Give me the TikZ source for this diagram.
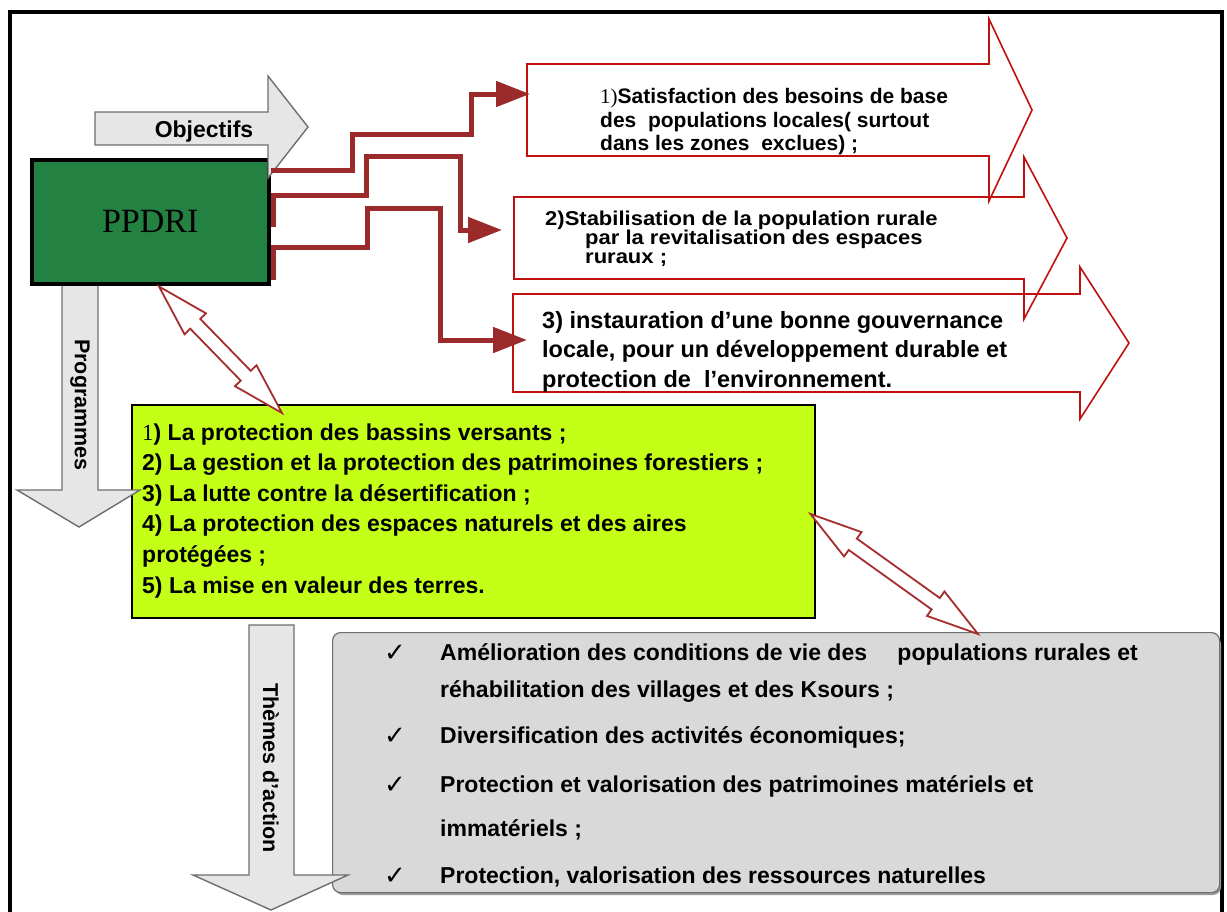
\documentclass[tikz,border=0pt]{standalone}
\usepackage{fontspec}
\setmainfont{Liberation Sans}
\newfontfamily\tnr{Liberation Serif}
\newfontfamily\djv{DejaVu Sans}
\usetikzlibrary{arrows.meta,calc}
\definecolor{ppgreen}{RGB}{35,129,66}
\definecolor{conred}{RGB}{155,43,43}
\definecolor{outred}{RGB}{192,16,16}
\definecolor{dblred}{RGB}{165,45,45}
\definecolor{limefill}{RGB}{196,255,24}
\definecolor{boxgrey}{RGB}{217,217,217}
\definecolor{arrgrey}{RGB}{230,230,230}
\definecolor{edgegrey}{RGB}{110,110,110}
\newcommand\fsz[2]{\fontsize{#1}{#2}\selectfont}
\newcommand\widetxt[1]{\scalebox{1.1}[1]{#1}}
\newcommand\dblarrow[2]{%
  \draw[dblarr] (#1) -- ($(#1)!52pt!(#2)!15pt!90:(#2)$) -- ($(#1)!52pt!(#2)!7pt!90:(#2)$)
    -- ($(#2)!52pt!(#1)!7pt!-90:(#1)$) -- ($(#2)!52pt!(#1)!15pt!-90:(#1)$) -- (#2)
    -- ($(#2)!52pt!(#1)!15pt!90:(#1)$) -- ($(#2)!52pt!(#1)!7pt!90:(#1)$)
    -- ($(#1)!52pt!(#2)!7pt!-90:(#2)$) -- ($(#1)!52pt!(#2)!15pt!-90:(#2)$) -- cycle;}
\tikzset{
  conn/.style={draw=conred, line width=5pt, -{Triangle[length=34pt,width=25pt]}},
  outarrow/.style={draw=outred, line width=1.6pt},
  greyarrow/.style={draw=edgegrey, fill=arrgrey, line width=1.4pt},
  dblarr/.style={draw=dblred, fill=white, line width=1.8pt},
  ta/.style={inner sep=0pt, anchor=base west, font=\bfseries\fsz{21}{21}},
  tb/.style={inner sep=0pt, anchor=base west, font=\bfseries\fsz{20}{20}},
  tc/.style={inner sep=0pt, anchor=base west, font=\bfseries\fsz{23.5}{23.5}},
  tg/.style={inner sep=0pt, anchor=base west, font=\bfseries\fsz{23}{23}},
  tk/.style={inner sep=0pt, anchor=base west, font=\djv\fsz{26}{26}},
  vlabel/.style={rotate=-90, inner sep=0pt, font=\bfseries\fsz{21.5}{21.5}},
}
\begin{document}
\begin{tikzpicture}[x=1pt,y=-1pt]
\useasboundingbox (0,0) rectangle (1227,911);
\fill[white] (0,0) rectangle (1227,911);
% frame
\draw[line width=4.5pt] (10,920) -- (10,12) -- (1222,12) -- (1222,920);

% programme box
\node[draw=black, line width=1.5pt, fill=limefill, minimum width=683, minimum height=213,
      anchor=north west, inner sep=0pt] (prog) at (131,404) {};
% themes box (with shadow)
\fill[black!40, rounded corners=8pt] (335,636) rectangle (1221,895);
\node[draw=edgegrey, line width=1.2pt, fill=boxgrey, rounded corners=8pt,
      minimum width=887, minimum height=260, anchor=north west, inner sep=0pt] (themes) at (332,632) {};

% objective arrows (outline)
\draw[outarrow] (527,64) -- (989,64) -- (989,19) -- (1032,110) -- (989,201) -- (989,156) -- (527,156) -- cycle;
\draw[outarrow] (514,197) -- (1024,197) -- (1024,157) -- (1067,238) -- (1024,319) -- (1024,279) -- (514,279) -- cycle;
\draw[outarrow] (513,294) -- (1080,294) -- (1080,267) -- (1129,343) -- (1080,419) -- (1080,392) -- (513,392) -- cycle;

% objective texts
\node[ta] (o1a) at (600,103) {{\tnr\mdseries 1)}Satisfaction des besoins de base};
\node[ta] (o1b) at (600,127) {des\ \ populations locales( surtout};
\node[ta] (o1c) at (600,150) {dans les zones\ \ exclues) ;};
\node[tb] (o2a) at (545,225) {\widetxt{2)Stabilisation de la population rurale}};
\node[tb] (o2b) at (585,244) {\widetxt{par la revitalisation des espaces}};
\node[tb] (o2c) at (585,263) {\widetxt{ruraux ;}};
\node[tc] (o3a) at (542,328) {3) instauration d’une bonne gouvernance};
\node[tc] (o3b) at (542,357.5) {locale, pour un développement durable et};
\node[tc] (o3c) at (542,387) {protection de\ \ l’environnement.};

% programme texts
\node[tg] (p1) at (142,440) {{\tnr\mdseries 1}) La protection des bassins versants ;};
\node[tg] (p2) at (142,470.5) {2) La gestion et la protection des patrimoines forestiers ;};
\node[tg] (p3) at (142,501) {3) La lutte contre la désertification ;};
\node[tg] (p4) at (142,531.5) {4) La protection des espaces naturels et des aires};
\node[tg] (p5) at (142,562) {protégées ;};
\node[tg] (p6) at (142,593) {5) La mise en valeur des terres.};

% theme texts
\node[tk] (k1) at (384,661) {✓};
\node[tg] (t1) at (440,660) {Amélioration des conditions de vie des\hspace{24pt} populations rurales et};
\node[tg] (t2) at (440,697) {réhabilitation des villages et des Ksours ;};
\node[tk] (k2) at (384,744) {✓};
\node[tg] (t3) at (440,743) {Diversification des activités économiques;};
\node[tk] (k3) at (384,793) {✓};
\node[tg] (t4) at (440,792) {Protection et valorisation des patrimoines matériels et};
\node[tg] (t5) at (440,836) {immatériels ;};
\node[tk] (k4) at (384,884) {✓};
\node[tg] (t6) at (440,883) {Protection, valorisation des ressources naturelles};

% vertical grey arrows
\draw[greyarrow] (62,279) -- (62,490) -- (17,490) -- (79,527) -- (140,490) -- (98,490) -- (98,279) -- cycle;
\node[vlabel] (programmes) at (80,405) {Programmes};
\draw[greyarrow] (249,625) -- (294,625) -- (294,875) -- (348,875) -- (271,910) -- (193,875) -- (249,875) -- cycle;
\node[vlabel] (themeslbl) at (271,768) {Thèmes d’action};

% PPDRI box
\node[draw=black, line width=3.5pt, fill=ppgreen, minimum width=237, minimum height=124,
      anchor=north west, inner sep=0pt, font=\tnr\fsz{34}{34}] (ppdri) at (30,158) {PPDRI};

% Objectifs arrow
\draw[greyarrow] (95,112) -- (268,112) -- (268,76) -- (308,127) -- (268,178) -- (268,145) -- (95,145) -- cycle;
\node[anchor=base, inner sep=0pt, font=\bfseries\fsz{23}{23}] (obj) at (204,137) {Objectifs};

% connectors
\coordinate (a1in) at (530,94);
\coordinate (a2in) at (502,230);
\coordinate (a3in) at (527,340);
\draw[conn] ([yshift=-12pt]ppdri.north east) -| (352,134) -| (471,94) -- (a1in);
\draw[conn] ($(ppdri.north east)+(3,69)$) -- ++(0,-32) -| (366,156) -| (460,230) -- (a2in);
\draw[conn] ($(ppdri.north east)+(3,122)$) -- ++(0,-33) -| (367,208) -| (440,340) -- (a3in);

% double arrows
\coordinate (d1a) at ($(ppdri.south west)+(129,1)$);
\coordinate (d1b) at ($(prog.north west)+(151,9)$);
\coordinate (d2a) at ($(prog.north east)+(-5,110)$);
\coordinate (d2b) at ($(themes.north west)+(646,2)$);
\dblarrow{d1a}{d1b}
\dblarrow{d2a}{d2b}
\end{tikzpicture}
\end{document}
